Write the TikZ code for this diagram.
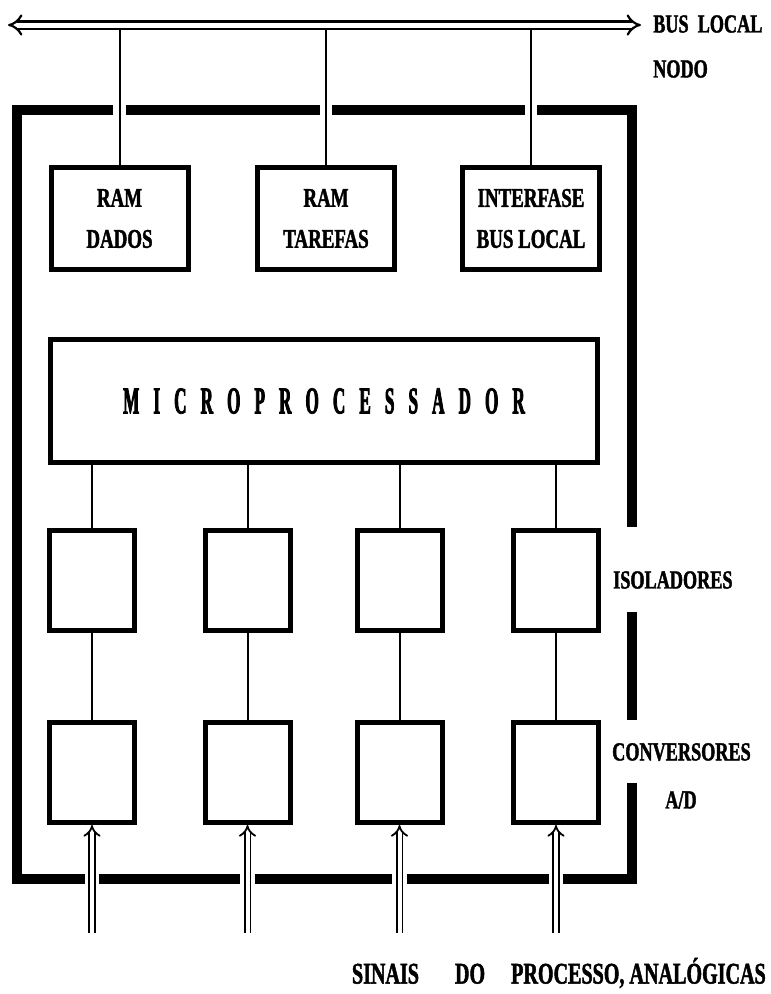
\documentclass[tikz,border=0pt]{standalone}
\usepackage{fontspec}
\setmainfont{Liberation Serif}[FakeStretch=0.7, FakeBold=1.5]
\newfontfamily\tallfont{Liberation Serif}[FakeStretch=0.45, FakeBold=2, WordSpace=3.3]
\newfontfamily\signalfont{Liberation Serif}[FakeStretch=0.67, FakeBold=1.5]
\usetikzlibrary{positioning,arrows.meta}

\begin{document}
\begin{tikzpicture}[
    x=1pt, y=-1pt,
    membox/.style={draw, line width=5pt, minimum width=137pt, minimum height=102pt,
        inner sep=0pt, align=center, font=\fontsize{27}{41}\selectfont\bfseries},
    unitbox/.style={draw, line width=5pt, minimum width=85pt, minimum height=100pt, inner sep=0pt},
    sidelabel/.style={font=\fontsize{26}{30}\selectfont\bfseries, inner sep=0pt},
    wire/.style={line width=2pt},
    frame/.style={line width=10pt},
    signal/.style={double, double distance=4pt, line width=1.8pt, -{Implies}},
    bus/.style={double, double distance=5pt, line width=2.2pt, {Implies[scale=1.3]}-{Implies[scale=1.3]}}
]
    \useasboundingbox (0,0) rectangle (771,994);

    % memorias e interface
    \node[membox] (ramdados) at (119.5,218.5) {RAM\\DADOS};
    \node[membox] (ramtarefas) at (326,218.5) {RAM\\TAREFAS};
    \node[membox] (interfase) at (531,218.5) {INTERFASE\\BUS LOCAL};

    \node[draw, line width=5pt, minimum width=547pt, minimum height=123pt, inner sep=0pt,
        font=\tallfont\fontsize{38}{40}\selectfont\bfseries] (micro) at (324,401)
        {M I C R O P R O C E S S A D O R};

    % isoladores e conversores
    \node[unitbox] (iso1) at (92,580.5) {};
    \node[unitbox] (iso2) at (247.5,580.5) {};
    \node[unitbox] (iso3) at (399.5,580.5) {};
    \node[unitbox] (iso4) at (556,580.5) {};
    \node[unitbox] (conv1) at (92,772.5) {};
    \node[unitbox] (conv2) at (247.5,772.5) {};
    \node[unitbox] (conv3) at (399.5,772.5) {};
    \node[unitbox] (conv4) at (556,772.5) {};

    % bus local
    \coordinate (busL) at (8,25);
    \coordinate (busR) at (641,25);
    \foreach \mem in {ramdados, ramtarefas, interfase}
        \draw[wire] (\mem.north) -- (\mem.north |- busL);
    \draw[bus] (busL) -- (busR);
    \node[sidelabel, anchor=west] (buslabel) at (653,24) {BUS\ \ LOCAL};
    \node[sidelabel, anchor=west] (nodolabel) at (653,69) {NODO};

    \foreach \i in {1,...,4} {
        \draw[wire] (micro.south -| iso\i) -- (iso\i.north);
        \draw[wire] (iso\i) -- (conv\i);
    }

    % sinais analogicos
    \foreach \i/\x in {1/92, 2/247.5, 3/399.5, 4/556} {
        \coordinate (sig\i) at (\x,933);
        \draw[signal] (sig\i) -- (conv\i.south);
    }

    % moldura do nodo
    \draw[frame] (113,110) -| (17,879) -- (85,879);
    \draw[frame] (126,110) -- (320,110);
    \draw[frame] (332,110) -- (525,110);
    \draw[frame] (537,110) -| (632,527);
    \draw[frame] (632,612) -- (632,720);
    \draw[frame] (632,783) |- (563,879);
    \draw[frame] (99,879) -- (240,879);
    \draw[frame] (255,879) -- (392,879);
    \draw[frame] (407,879) -- (549,879);

    \node[sidelabel, anchor=west] (isolabel) at (613,580) {ISOLADORES};
    \node[sidelabel, anchor=west] (convlabel) at (612,752) {CONVERSORES};
    \node[sidelabel] (adlabel) at (681,800) {A/D};
    \node[font=\signalfont\fontsize{30}{34}\selectfont\bfseries, anchor=east, inner sep=0pt]
        (signallabel) at (766,973) {SINAIS\hspace{36pt}DO\hspace{26pt}PROCESSO, ANALÓGICAS};
\end{tikzpicture}
\end{document}
